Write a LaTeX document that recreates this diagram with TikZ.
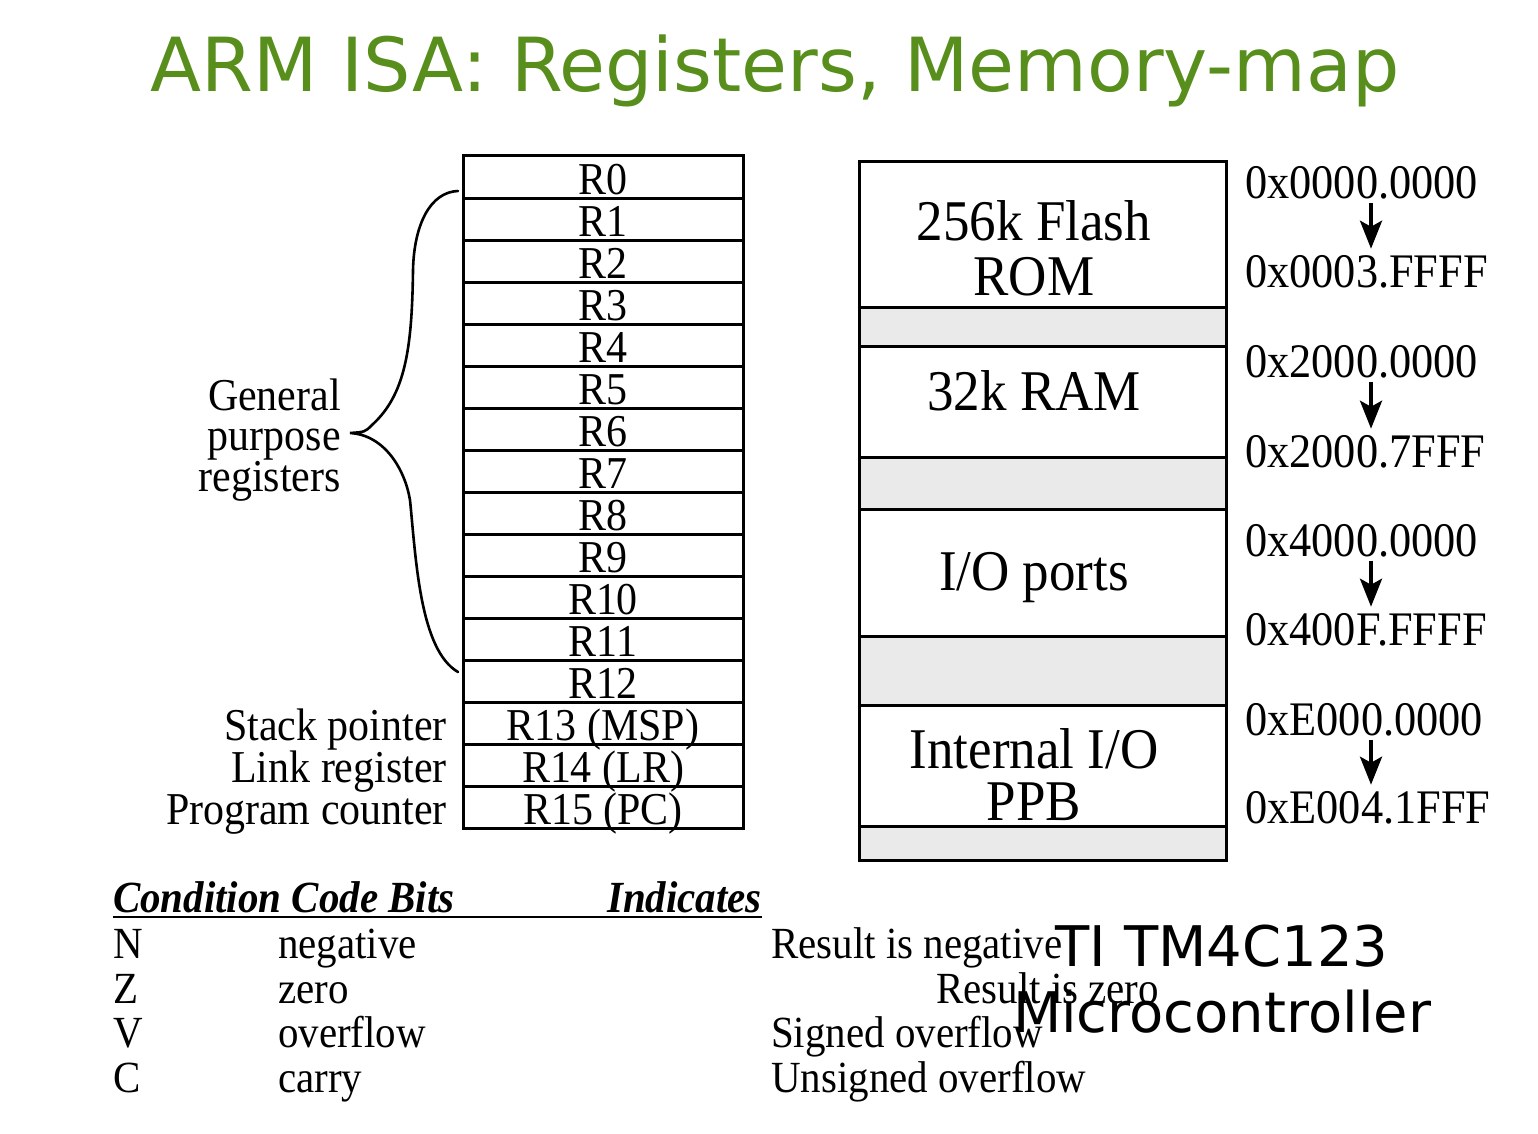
\documentclass[tikz,border=0pt]{standalone}
\usepackage{fontspec}
\setmainfont[FakeStretch=0.92]{Liberation Serif}
\newfontfamily\slidefont{DejaVu Sans}
\usetikzlibrary{positioning, arrows.meta}
\definecolor{isagreen}{RGB}{88,142,28}
\definecolor{holegray}{RGB}{234,234,234}
\newcommand{\regfont}{\fontsize{45.6}{40.5}\selectfont}
\newcommand{\memfont}{\fontsize{57.6}{57.6}\selectfont}
\newcommand{\addrfont}{\fontsize{48.2}{48.2}\selectfont}
\newcommand{\ccfont}{\fontsize{44.5}{44.5}\selectfont}
\tikzstyle{reg} = [rectangle, draw=black, line width=3pt, minimum width=280pt, inner sep=0pt, outer sep=0pt, text height=38pt, text depth=4pt, font=\regfont]
\tikzstyle{side} = [inner sep=0pt, font=\regfont]
\tikzstyle{region} = [rectangle, draw=black, line width=3pt, minimum width=367pt, inner sep=0pt, outer sep=0pt, fill=white]
\tikzstyle{hole} = [region, fill=holegray]
\tikzstyle{memtext} = [inner sep=0pt, font=\memfont, anchor=base]
\tikzstyle{addr} = [inner sep=0pt, font=\addrfont, anchor=base west]
\tikzstyle{down} = [line width=4pt, -{Stealth[length=28pt, width=22pt, inset=6pt]}, shorten <=4pt, shorten >=6pt]
\tikzstyle{brace} = [line width=2.6pt, line cap=round]
\tikzstyle{cc} = [inner sep=0pt, font=\ccfont, anchor=base west]
\tikzstyle{chip} = [inner sep=0pt, font=\slidefont\fontsize{56}{56}\selectfont, anchor=base]

\begin{document}
\begin{tikzpicture}[x=1pt, y=-1pt]
	\useasboundingbox (0,0) rectangle (1538,1134);
	\node (title) [inner sep=0pt, anchor=base, text=isagreen, font=\slidefont\fontsize{74.6}{74.6}\selectfont] at (775,92) {ARM ISA: Registers, Memory-map};

	% register file
	\node (r0) [reg] at (603,177) {R0};
	\foreach \i/\name [evaluate=\i as \prev using int(\i-1)] in {1/R1, 2/R2, 3/R3, 4/R4, 5/R5, 6/R6, 7/R7, 8/R8, 9/R9, 10/R10, 11/R11, 12/R12, 13/R13 (MSP), 14/R14 (LR), 15/R15 (PC)}
		\node (r\i) [reg, below=0pt of r\prev] {\name};

	\node (sp) [side, anchor=base east] at ([xshift=-16pt]r13.base west) {Stack pointer};
	\node (lr) [side, anchor=base east] at ([xshift=-16pt]r14.base west) {Link register};
	\node (pc) [side, anchor=base east] at ([xshift=-16pt]r15.base west) {Program counter};

	\coordinate (gtop) at (458,191);
	\coordinate (gtip) at (350,433);
	\coordinate (gbot) at (458,672);
	\draw [brace] (gtop) .. controls (430,192) and (414,225) .. (413,270)
		.. controls (412,350) and (405,395) .. (372,425)
		.. controls (365,432) .. (gtip)
		.. controls (385,435) and (405,470) .. (410,500)
		.. controls (416,560) and (420,650) .. (gbot);
	\node (gpr) [side, align=right, anchor=east] at ([xshift=-9pt, yshift=-7pt]gtip) {General\\purpose\\registers};

	% memory map
	\node (flash) [region, minimum height=145pt] at (1042.5,234.5) {};
	\node (gap1) [hole, minimum height=39pt, below=0pt of flash] {};
	\node (ram) [region, minimum height=111pt, below=0pt of gap1] {};
	\node (gap2) [hole, minimum height=52pt, below=0pt of ram] {};
	\node (io) [region, minimum height=127pt, below=0pt of gap2] {};
	\node (gap3) [hole, minimum height=69pt, below=0pt of io] {};
	\node (ppb) [region, minimum height=121pt, below=0pt of gap3] {};
	\node (gap4) [hole, minimum height=34pt, below=0pt of ppb] {};

	\node (flashA) [memtext] at (1034,240) {256k Flash};
	\node (flashB) [memtext] at (1034,295) {ROM};
	\node (ramA) [memtext] at (1034,410) {32k RAM};
	\node (ioA) [memtext] at (1034,590) {I/O ports};
	\node (ppbA) [memtext] at (1034,768) {Internal I/O};
	\node (ppbB) [memtext] at (1034,820) {PPB};

	\node (a0) [addr] at (1245,198) {0x0000.0000};
	\node (a1) [addr] at (1245,287) {0x0003.FFFF};
	\node (a2) [addr] at (1245,377) {0x2000.0000};
	\node (a3) [addr] at (1245,467) {0x2000.7FFF};
	\node (a4) [addr] at (1245,556) {0x4000.0000};
	\node (a5) [addr] at (1245,645) {0x400F.FFFF};
	\node (a6) [addr] at (1245,735) {0xE000.0000};
	\node (a7) [addr] at (1245,823) {0xE004.1FFF};

	\draw [down] (a0.south -| 1371,0) -- (a1.north -| 1371,0);
	\draw [down] (a2.south -| 1371,0) -- (a3.north -| 1371,0);
	\draw [down] (a4.south -| 1371,0) -- (a5.north -| 1371,0);
	\draw [down] (a6.south -| 1371,0) -- (a7.north -| 1371,0);

	% condition codes
	\node (ccb) [cc, font=\ccfont\bfseries\itshape] at (113,912) {Condition Code Bits};
	\node (ind) [cc, font=\ccfont\bfseries\itshape] at (607,912) {Indicates};
	\draw [line width=2pt] ([yshift=-5pt]ccb.base west) -- ([yshift=-5pt]ind.base east);

	\node (n) [cc] at (113,958) {N};
	\node (z) [cc] at (113,1003) {Z};
	\node (v) [cc] at (113,1047) {V};
	\node (c) [cc] at (113,1092) {C};
	\node (nw) [cc] at (278,958) {negative};
	\node (zw) [cc] at (278,1003) {zero};
	\node (vw) [cc] at (278,1047) {overflow};
	\node (cw) [cc] at (278,1092) {carry};
	\node (nr) [cc] at (771,958) {Result is negative};
	\node (zr) [cc] at (936,1003) {Result is zero};
	\node (vr) [cc] at (771,1047) {Signed overflow};
	\node (cr) [cc] at (771,1092) {Unsigned overflow};

	\node (ti) [chip] at (1222,966) {TI TM4C123};
	\node (mcu) [chip] at (1222,1032) {Microcontroller};
\end{tikzpicture}
\end{document}
